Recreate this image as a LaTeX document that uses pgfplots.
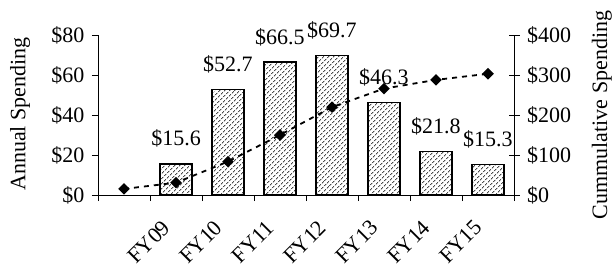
\documentclass[border=0pt]{standalone}
\usepackage{fontspec}
\setmainfont{Liberation Serif}
\usepackage{pgfplots}
\pgfplotsset{compat=1.18}
\usetikzlibrary{patterns.meta}
\begin{document}
\fontsize{22bp}{26bp}\selectfont
\begin{tikzpicture}
\useasboundingbox (0bp,0bp) rectangle (613bp,272bp);
\begin{axis}[
 at={(98bp,77bp)}, anchor=south west,
 scale only axis, width=416bp, height=160bp,
 xmin=0.5, xmax=8.5, ymin=0, ymax=80,
 axis x line*=bottom, axis y line*=left,
 axis line style={line width=0.8bp, -},
 tick align=outside,
 /pgf/number format/assume math mode=true,
 xtick={0.5,1.5,...,8.5}, xticklabels={},
 ytick={0,20,40,60,80}, yticklabels={\$0,\$20,\$40,\$60,\$80},
 major tick length=6bp,
 tick style={line width=0.8bp, black},
 extra x ticks={1.82,2.82,3.82,4.82,5.82,6.82,7.82},
 extra x tick labels={FY09,FY10,FY11,FY12,FY13,FY14,FY15},
 extra x tick style={major tick length=0pt, tick label style={yshift=-29bp, rotate=45, anchor=east, inner sep=0pt}},
 every axis y label/.style={at={(axis description cs:-0.1875,0.506)}, rotate=90, anchor=center},
 ylabel={Annual Spending},
 nodes near coords={\$\pgfmathprintnumber[fixed,precision=1,fixed zerofill,assume math mode=true]{\pgfplotspointmeta}},
 nodes near coords style={anchor=center, yshift=25bp},
 clip=false,
]
\addplot[ybar, bar width=32bp, draw=black, line width=1.6bp, pattern={Lines[angle=45, distance=3.6bp, line width=1bp]}, pattern color=black!70] coordinates {(2,15.6)(3,52.7)(4,66.5)(5,69.7)(6,46.3)(7,21.8)(8,15.3)};
\end{axis}
\begin{axis}[
 at={(98bp,77bp)}, anchor=south west,
 scale only axis, width=416bp, height=160bp,
 xmin=0.5, xmax=8.5, ymin=0, ymax=400,
 axis x line=none, axis y line*=right,
 axis line style={line width=0.8bp,-},
 tick align=center, major tick length=11bp,
 tick style={line width=0.8bp, black},
 ytick={0,100,200,300,400}, yticklabels={\$0,\$100,\$200,\$300,\$400},
 every axis y label/.style={at={(axis description cs:1.2115,0.5)}, rotate=90, anchor=center},
 ylabel={Cummulative Spending},
 clip=false,
]
\addplot[black, line width=1.8bp, dash pattern=on 5bp off 5bp, mark=square*, mark size=3.2bp, mark options={solid, rotate=45}] coordinates {(1,15.2)(2,30.8)(3,83.5)(4,150)(5,219.7)(6,266)(7,287.8)(8,303.1)};
\end{axis}
\end{tikzpicture}
\end{document}
